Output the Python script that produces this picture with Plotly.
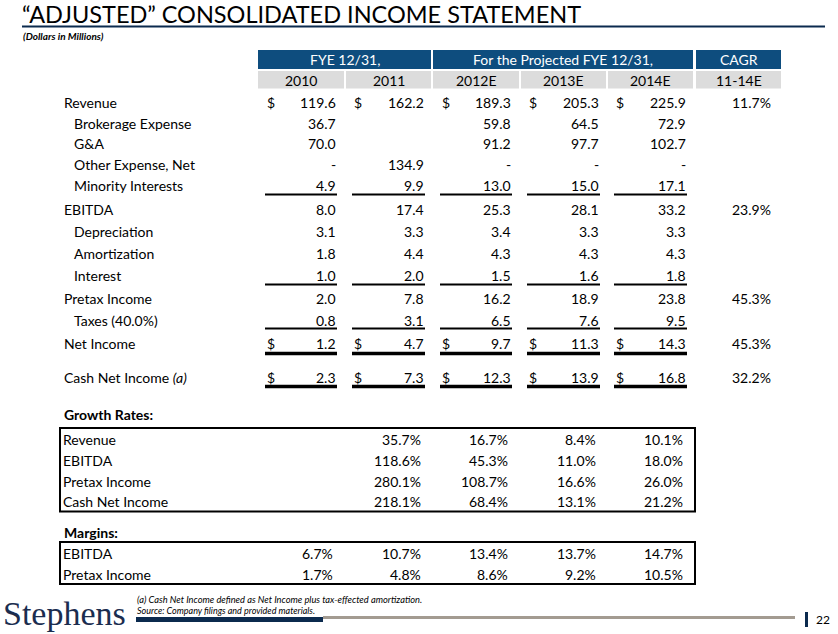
import plotly.graph_objects as go

# ---------------- data ----------------
years = ["2010", "2011", "2012E", "2013E", "2014E"]
cagr_header = "11-14E"

row_labels = ["Revenue", "Brokerage Expense", "G&A", "Other Expense, Net", "Minority Interests",
              "EBITDA", "Depreciation", "Amortization", "Interest", "Pretax Income",
              "Taxes (40.0%)", "Net Income", "Cash Net Income <i>(a)</i>"]
row_indent = [0, 1, 1, 1, 1, 0, 1, 1, 1, 0, 1, 0, 0]
row_dollar = [1, 0, 0, 0, 0, 0, 0, 0, 0, 0, 0, 1, 1]

revenue = [119.6, 162.2, 189.3, 205.3, 225.9]
brokerage = [36.7, None, 59.8, 64.5, 72.9]
g_and_a = [70.0, None, 91.2, 97.7, 102.7]
other_expense = [0.0, 134.9, 0.0, 0.0, 0.0]
minority = [4.9, 9.9, 13.0, 15.0, 17.1]
ebitda = [8.0, 17.4, 25.3, 28.1, 33.2]
depreciation = [3.1, 3.3, 3.4, 3.3, 3.3]
amortization = [1.8, 4.4, 4.3, 4.3, 4.3]
interest = [1.0, 2.0, 1.5, 1.6, 1.8]
pretax = [2.0, 7.8, 16.2, 18.9, 23.8]
taxes = [0.8, 3.1, 6.5, 7.6, 9.5]
net_income = [1.2, 4.7, 9.7, 11.3, 14.3]
cash_net_income = [2.3, 7.3, 12.3, 13.9, 16.8]
cagr = [11.7, None, None, None, None, 23.9, None, None, None, 45.3, None, 45.3, 32.2]

growth_labels = ["Revenue", "EBITDA", "Pretax Income", "Cash Net Income"]
growth_revenue = [35.7, 16.7, 8.4, 10.1]
growth_ebitda = [118.6, 45.3, 11.0, 18.0]
growth_pretax = [280.1, 108.7, 16.6, 26.0]
growth_cash_ni = [218.1, 68.4, 13.1, 21.2]

margin_labels = ["EBITDA", "Pretax Income"]
margin_ebitda = [6.7, 10.7, 13.4, 13.7, 14.7]
margin_pretax = [1.7, 4.8, 8.6, 9.2, 10.5]

rows = [revenue, brokerage, g_and_a, other_expense, minority, ebitda, depreciation,
        amortization, interest, pretax, taxes, net_income, cash_net_income]
growth_rows = [growth_revenue, growth_ebitda, growth_pretax, growth_cash_ni]
margin_rows = [margin_ebitda, margin_pretax]

# ---------------- layout geometry ----------------
W, H = 838, 634
FONT = "Lato"
FS = 14
NAVY = "#0e4d7e"
DARK = "#0b2a4e"
GRAY = "#dcdcdc"

col_left = [265, 352, 440, 527, 614]
col_right = [337, 425, 512, 600, 687]
cell_x0 = [258, 346, 433, 521, 608]
cell_x1 = [344, 431, 519, 606, 693]
cagr_x0, cagr_x1, cagr_right = 696, 781, 772
row_y = [102, 123, 143, 164, 185, 209, 231, 253, 275, 298, 320, 343, 377]
single_lines = {4: 194.5, 8: 284.5, 10: 328.5}
double_lines = {11: 353.5, 12: 386.5}

ann = []
shapes = []


def text(x, y, s, size=FS, anchor="left", color="black", family=FONT, yanchor="middle"):
    ann.append(dict(x=x, y=y, xref="x", yref="y", text=s, showarrow=False,
                    xanchor=anchor, yanchor=yanchor, borderpad=0,
                    font=dict(family=family, size=size, color=color)))


def rect(x0, y0, x1, y1, fill=None, line_color=None, lw=0):
    shapes.append(dict(type="rect", xref="x", yref="y", x0=x0, y0=y0, x1=x1, y1=y1,
                       fillcolor=fill if fill else "rgba(0,0,0,0)",
                       line=dict(color=line_color if line_color else "rgba(0,0,0,0)", width=lw),
                       layer="below"))


def hline(x0, x1, y, color="black", lw=1.5):
    shapes.append(dict(type="line", xref="x", yref="y", x0=x0, x1=x1, y0=y, y1=y,
                       line=dict(color=color, width=lw)))


def fmt(v):
    if v is None:
        return ""
    if v == 0:
        return "-"
    return f"{v:.1f}"


# Title
text(21, 14, "“ADJUSTED” CONSOLIDATED INCOME STATEMENT", size=23.5)
hline(22, 825, 26.5, color=DARK, lw=2)
text(22, 35.5, "<b><i>(Dollars in Millions)</i></b>", size=10)

# Header
rect(258, 50, 431, 69, fill=NAVY)
rect(433, 50, 693, 69, fill=NAVY)
rect(cagr_x0, 50, cagr_x1, 69, fill=NAVY)
text((258 + 431) / 2, 59.5, "FYE 12/31,", color="white", anchor="center")
text((433 + 693) / 2, 59.5, "For the Projected FYE 12/31,", color="white", anchor="center")
text((cagr_x0 + cagr_x1) / 2, 59.5, "CAGR", color="white", anchor="center")
for i, yr in enumerate(years):
    rect(cell_x0[i], 71, cell_x1[i], 88.5, fill=GRAY)
    text((cell_x0[i] + cell_x1[i]) / 2, 80, yr, anchor="center")
rect(cagr_x0, 71, cagr_x1, 88.5, fill=GRAY)
text((cagr_x0 + cagr_x1) / 2, 80, cagr_header, anchor="center")

# Main table
for r, (lab, vals) in enumerate(zip(row_labels, rows)):
    y = row_y[r]
    text(63 + 10 * row_indent[r], y, lab)
    for c, v in enumerate(vals):
        s = fmt(v)
        if s:
            text(col_right[c], y, s, anchor="right")
        if row_dollar[r]:
            text(col_left[c] + 1, y, "$")
    if cagr[r] is not None:
        text(cagr_right, y, f"{cagr[r]:.1f}%", anchor="right")
    if r in single_lines:
        for c in range(5):
            hline(col_left[c], col_right[c], single_lines[r], lw=2)
    if r in double_lines:
        for c in range(5):
            hline(col_left[c], col_right[c], double_lines[r], lw=3.5)

# Growth rates
text(63, 414, "<b>Growth Rates:</b>")
rect(60, 428, 695, 511.5, line_color="black", lw=2)
g_y = [439, 460, 481, 501]
for i, (lab, vals) in enumerate(zip(growth_labels, growth_rows)):
    text(62, g_y[i], lab)
    for j, v in enumerate(vals):
        text(col_right[j + 1] - 3, g_y[i], f"{v:.1f}%", anchor="right")

# Margins
text(63, 532, "<b>Margins:</b>")
rect(60, 542, 695, 584, line_color="black", lw=2)
m_y = [553, 574]
for i, (lab, vals) in enumerate(zip(margin_labels, margin_rows)):
    text(62, m_y[i], lab)
    for j, v in enumerate(vals):
        text(col_right[j] - 3, m_y[i], f"{v:.1f}%", anchor="right")

# Footer
text(2, 613, "Stephens", size=34, family="Liberation Serif", color="#1b2d4f")
text(136, 599, "<i>(a) Cash Net Income defined as Net Income plus tax-effected amortization.</i>", size=9.3)
text(136, 610, "<i>Source: Company filings and provided materials.</i>", size=9)
hline(323, 795, 617.5, color="#a39b91", lw=3)
hline(136, 323, 619.5, color=DARK, lw=5)
shapes.append(dict(type="line", xref="x", yref="y", x0=806.5, x1=806.5, y0=612, y1=627,
                   line=dict(color=DARK, width=3)))
text(815, 619, "22", size=12)

fig = go.Figure()
fig.add_trace(go.Scatter(x=[0, W], y=[0, H], mode="markers",
                         marker=dict(opacity=0), hoverinfo="skip", showlegend=False))
fig.update_layout(
    width=W, height=H, margin=dict(l=0, r=0, t=0, b=0),
    paper_bgcolor="white", plot_bgcolor="white",
    xaxis=dict(range=[0, W], visible=False, fixedrange=True),
    yaxis=dict(range=[H, 0], visible=False, fixedrange=True),
    annotations=ann, shapes=shapes, showlegend=False,
)
fig.write_html("out.html", config={"displayModeBar": False},
               post_script="document.body.style.margin='0';document.body.style.overflow='hidden';")
